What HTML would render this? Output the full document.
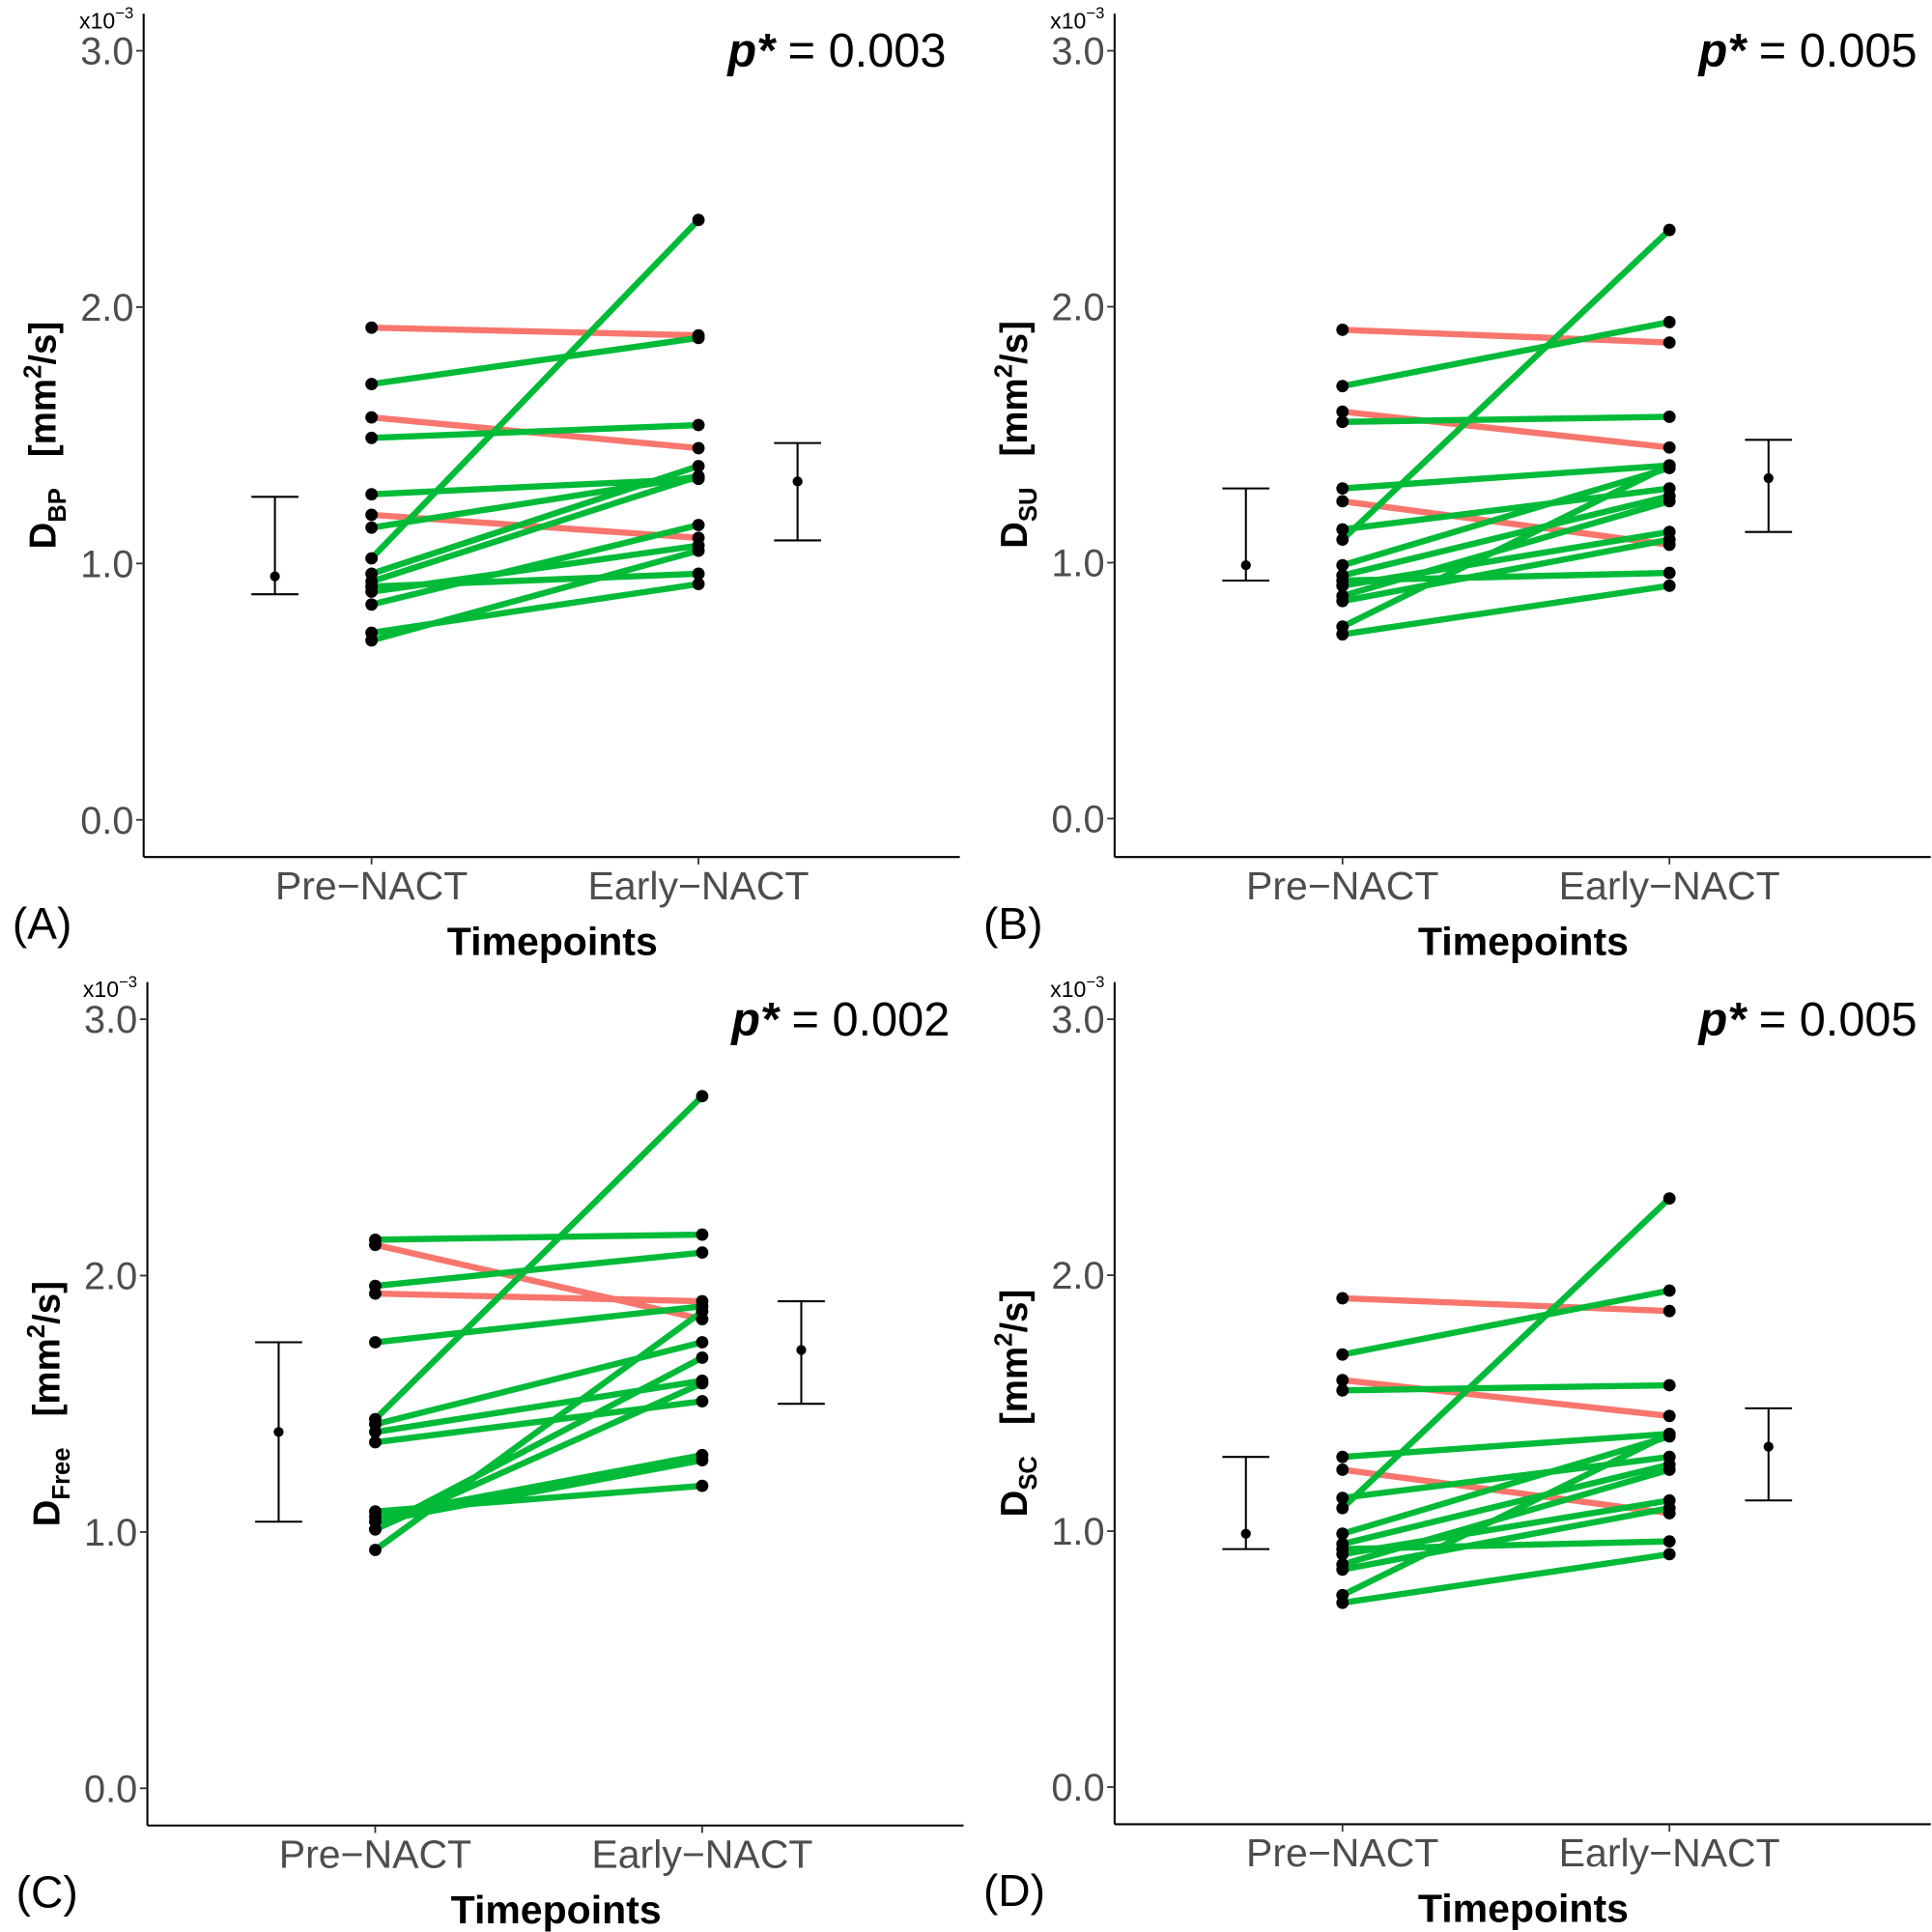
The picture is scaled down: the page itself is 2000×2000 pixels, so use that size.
<!DOCTYPE html>
<html><head><meta charset="utf-8"><style>
html,body{margin:0;padding:0;background:#fff;}
svg{display:block;font-family:"Liberation Sans",sans-serif;}
</style></head><body>
<svg id="chart" width="2000" height="2000" viewBox="0 0 1560 1560" xmlns="http://www.w3.org/2000/svg"></svg>
<script>
// Panel A data (x10^-3 mm^2/s)
const preA  = [1.92,1.70,1.57,1.49,1.27,1.19,1.14,1.02,0.96,0.93,0.91,0.89,0.84,0.73,0.70];
const postA = [1.89,1.88,1.45,1.54,1.33,1.10,1.34,2.34,1.38,1.34,0.96,1.07,1.15,0.92,1.05];
const colA  = ["r","g","r","g","g","r","g","g","g","g","g","g","g","g","g"];
const barsA = [[0.95,0.88,1.26],[1.32,1.09,1.47]];
// Panel B data
const preB  = [1.91,1.69,1.59,1.55,1.29,1.24,1.13,1.09,0.99,0.95,0.93,0.91,0.87,0.85,0.75,0.72];
const postB = [1.86,1.94,1.45,1.57,1.38,1.07,1.29,2.30,1.37,1.26,0.96,1.12,1.24,1.09,1.38,0.91];
const colB  = ["r","g","r","g","g","r","g","g","g","g","g","g","g","g","g","g"];
const barsB = [[0.99,0.93,1.29],[1.33,1.12,1.48]];
// Panel C data
const preC  = [2.14,2.12,1.96,1.93,1.74,1.44,1.42,1.39,1.35,1.08,1.06,1.04,1.01,1.01,0.93];
const postC = [2.16,1.83,2.09,1.90,1.88,2.70,1.74,1.59,1.51,1.18,1.30,1.28,1.68,1.58,1.86];
const colC  = ["g","r","g","r","g","g","g","g","g","g","g","g","g","g","g"];
const barsC = [[1.39,1.04,1.74],[1.71,1.50,1.90]];
// Panel D data
const preD  = preB.slice();
const postD = postB.slice();
const colD  = colB.slice();
const barsD = [[0.99,0.93,1.29],[1.33,1.12,1.48]];
const yTicks = [0,1,2,3];
const yTickLabels = ["0.0","1.0","2.0","3.0"];
const xLabels = ["Pre\u2212NACT","Early\u2212NACT"];

const NS="http://www.w3.org/2000/svg";
const svg=document.getElementById('chart');
function mk(tag,attrs,parent){const e=document.createElementNS(NS,tag);for(const k in attrs)e.setAttribute(k,attrs[k]);(parent||svg).appendChild(e);return e;}

function panel(o){
  const g=mk('g',{});
  
  
  const y=v=>o.y0-(o.y0-o.y3)*v/3;
  const xPre=o.ax+184, xPost=o.ax+448;
  const ax=mk('line',{x1:o.ax,y1:o.top,x2:o.ax,y2:o.bot,stroke:'#000','stroke-width':1.6},g);
  
  const bx=mk('line',{x1:o.ax,y1:o.bot,x2:o.ax+659,y2:o.bot,stroke:'#000','stroke-width':1.6},g);
  
  yTicks.forEach((t,i)=>{
    mk('line',{x1:o.ax-6,y1:y(t),x2:o.ax,y2:y(t),stroke:'#333','stroke-width':1.4},g);
    const tl=mk('text',{x:o.ax-8,y:y(t)+11,'text-anchor':'end','font-size':31,fill:'#4d4d4d'},g);
    tl.textContent=yTickLabels[i];
    
  });
  [xPre,xPost].forEach((xx,i)=>{
    mk('line',{x1:xx,y1:o.bot,x2:xx,y2:o.bot+6,stroke:'#333','stroke-width':1.4},g);
    const tl=mk('text',{x:xx,y:o.bot+34,'text-anchor':'middle','font-size':32,fill:'#4d4d4d'},g);
    tl.textContent=xLabels[i];
    
  });
  const mult=mk('text',{x:o.ax-52,y:o.top+12,'font-size':18,fill:'#000'},g);
  mult.innerHTML='x10<tspan dy="-8" font-size="13">\u22123</tspan>';
  
  const p=mk('text',{x:o.ax+648,y:o.y3+13,'text-anchor':'end','font-size':38,fill:'#000'},g);
  p.innerHTML='<tspan font-style="italic" font-weight="bold">p*</tspan> = '+o.p;
  
  const xt=mk('text',{x:o.ax+330,y:o.bot+79,'text-anchor':'middle','font-size':32,'font-weight':'bold',fill:'#000'},g);
  xt.textContent='Timepoints';
  
  const yt=mk('text',{transform:`translate(${o.ax-71},${(o.y0+o.y3)/2}) rotate(-90)`,'text-anchor':'middle','font-size':30,'font-weight':'bold',fill:'#000'},g);
  yt.innerHTML='D<tspan font-size="20" dy="8">'+o.sub+'</tspan><tspan dy="-8" font-size="30">'+o.gap+'[mm</tspan><tspan font-size="20" dy="-12">2</tspan><tspan dy="12">/s]</tspan>';
  
  const lab=mk('text',{x:o.ax-106,y:o.bot+66,'font-size':36,fill:'#000'},g);
  lab.textContent='('+o.id+')';
  
  // lines
  o.pre.forEach((v,i)=>{
    const l=mk('line',{x1:xPre,y1:y(v),x2:xPost,y2:y(o.post[i]),stroke:o.col[i]==='r'?'#F8766D':'#00BA38','stroke-width':5},g);
    
  });
  o.pre.forEach((v,i)=>{
    const c1=mk('circle',{cx:xPre,cy:y(v),r:5,fill:'#000'},g);
    
    const c2=mk('circle',{cx:xPost,cy:y(o.post[i]),r:5,fill:'#000'},g);
    
  });
  // error bars
  [xPre-78,xPost+80].forEach((xx,i)=>{
    const b=o.bars[i];
    const eg=mk('g',{},g);
    
    mk('line',{x1:xx,y1:y(b[1]),x2:xx,y2:y(b[2]),stroke:'#000','stroke-width':1.6},eg);
    mk('line',{x1:xx-19,y1:y(b[1]),x2:xx+19,y2:y(b[1]),stroke:'#000','stroke-width':1.6},eg);
    mk('line',{x1:xx-19,y1:y(b[2]),x2:xx+19,y2:y(b[2]),stroke:'#000','stroke-width':1.6},eg);
    mk('circle',{cx:xx,cy:y(b[0]),r:4,fill:'#000'},eg);
  });
}
panel({id:'A',ax:116,top:11,bot:692,y3:41,y0:662,pre:preA,post:postA,col:colA,bars:barsA,p:'0.003',sub:'BP',gap:'\u00a0\u00a0\u00a0'});
panel({id:'B',ax:900,top:11,bot:692,y3:41,y0:661,pre:preB,post:postB,col:colB,bars:barsB,p:'0.005',sub:'SU',gap:'\u00a0\u00a0\u00a0'});
panel({id:'C',ax:119,top:793,bot:1474,y3:823,y0:1444,pre:preC,post:postC,col:colC,bars:barsC,p:'0.002',sub:'Free',gap:'\u00a0\u00a0\u00a0'});
panel({id:'D',ax:900,top:793,bot:1473,y3:823,y0:1443,pre:preD,post:postD,col:colD,bars:barsD,p:'0.005',sub:'SC',gap:'\u00a0\u00a0\u00a0'});
</script>
</body></html>
